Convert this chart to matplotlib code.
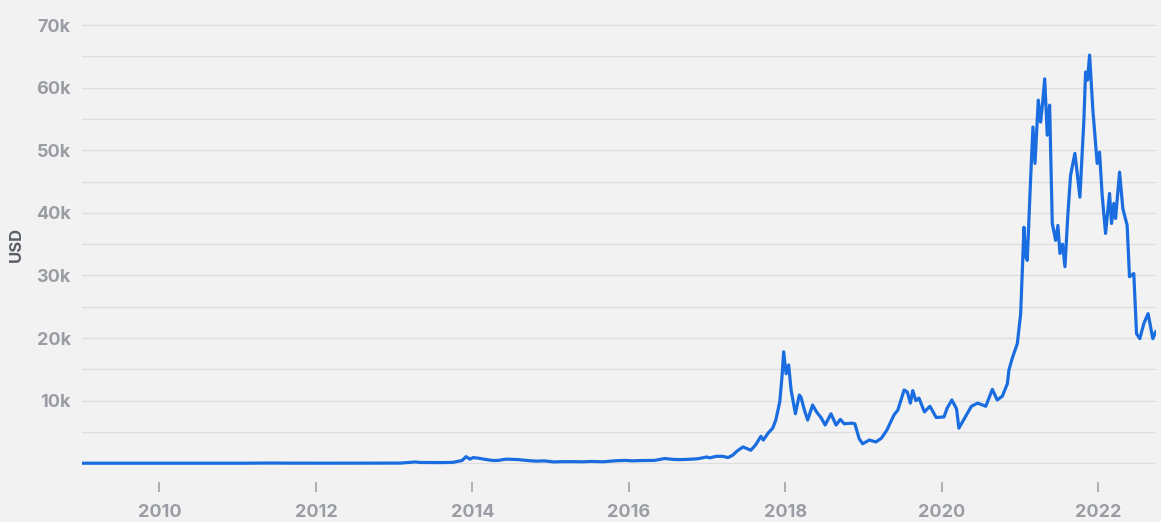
import numpy as np
import matplotlib
matplotlib.use('Agg')
import matplotlib.pyplot as plt
from matplotlib.ticker import FixedLocator, FuncFormatter

# Bitcoin price (USD), x as decimal year
year = [2009.01, 2009.50, 2010.00, 2010.54, 2010.83, 2011.08, 2011.44, 2011.67, 2011.92,
        2012.17, 2012.62, 2012.92, 2013.08, 2013.27, 2013.33, 2013.58, 2013.75, 2013.87,
        2013.92, 2013.97, 2014.01, 2014.08, 2014.17, 2014.27, 2014.33, 2014.43, 2014.50,
        2014.58, 2014.67, 2014.75, 2014.83, 2014.92, 2015.04, 2015.12, 2015.25, 2015.42,
        2015.52, 2015.67, 2015.84, 2015.96, 2016.04, 2016.17, 2016.33, 2016.46, 2016.58,
        2016.65, 2016.75, 2016.88, 2017.00, 2017.03, 2017.12, 2017.20, 2017.27, 2017.33,
        2017.39, 2017.46, 2017.56, 2017.62, 2017.69, 2017.72, 2017.78, 2017.84, 2017.88,
        2017.93, 2017.96, 2017.98, 2018.011, 2018.044, 2018.075, 2018.13, 2018.18, 2018.20,
        2018.245, 2018.287, 2018.35, 2018.40, 2018.457, 2018.51, 2018.585, 2018.65, 2018.704,
        2018.755, 2018.85, 2018.89, 2018.946, 2018.99, 2019.074, 2019.16, 2019.23, 2019.30,
        2019.39, 2019.44, 2019.52, 2019.56, 2019.60, 2019.63, 2019.67, 2019.71, 2019.78,
        2019.85, 2019.93, 2020.03, 2020.07, 2020.13, 2020.19, 2020.22, 2020.28, 2020.38,
        2020.46, 2020.564, 2020.648, 2020.71, 2020.775, 2020.84, 2020.86, 2020.903, 2020.967,
        2021.010, 2021.052, 2021.075, 2021.094, 2021.138, 2021.167, 2021.193, 2021.235,
        2021.265, 2021.290, 2021.317, 2021.350, 2021.380, 2021.414, 2021.457, 2021.486,
        2021.512, 2021.545, 2021.576, 2021.614, 2021.648, 2021.703, 2021.733, 2021.767,
        2021.818, 2021.840, 2021.865, 2021.891, 2021.933, 2021.988, 2022.018, 2022.052,
        2022.095, 2022.146, 2022.172, 2022.201, 2022.223, 2022.274, 2022.316, 2022.371,
        2022.401, 2022.456, 2022.491, 2022.533, 2022.584, 2022.639, 2022.699, 2022.736]
price = [0, 0, 0, 0.07, 0.3, 1, 30, 8, 3,
         5, 11, 13, 20, 200, 120, 100, 130, 440,
         1050, 650, 900, 800, 600, 430, 450, 650, 630,
         590, 475, 380, 330, 375, 210, 240, 250, 230,
         285, 230, 400, 450, 380, 430, 450, 750, 600,
         580, 615, 710, 1000, 850, 1100, 1100, 900, 1300,
         2000, 2600, 2080, 2900, 4300, 3700, 4800, 5600, 6900,
         9800, 14000, 17800, 14300, 15700, 11700, 7900, 10900, 10600,
         8500, 6900, 9300, 8200, 7300, 6100, 7900, 6100, 7000,
         6300, 6400, 6300, 3900, 3100, 3700, 3400, 4000, 5300,
         7700, 8500, 11700, 11400, 9600, 11600, 10000, 10400, 8200,
         9100, 7300, 7400, 8800, 10100, 8700, 5600, 6900, 9100,
         9600, 9100, 11800, 10100, 10700, 12700, 14900, 16800, 19100,
         23900, 37700, 33000, 32400, 45700, 53700, 47900, 58000,
         54500, 57500, 61400, 52400, 57200, 38300, 35600, 38000,
         33500, 35000, 31400, 39900, 46000, 49500, 46300, 42500,
         54800, 62500, 61200, 65200, 56400, 47900, 49700, 42800,
         36700, 43100, 38300, 41500, 39100, 46500, 40700, 38000,
         29800, 30300, 20700, 19900, 22300, 23900, 19900, 21000]

year_ticks = [2010, 2012, 2014, 2016, 2018, 2020, 2022]
usd_ticks = [0, 5000, 10000, 15000, 20000, 25000, 30000, 35000,
             40000, 45000, 50000, 55000, 60000, 65000, 70000]

bg = '#f2f2f2'
label_col = '#9a9da3'

fig = plt.figure(figsize=(11.61, 5.22), dpi=100, facecolor=bg)
ax = fig.add_axes([82/1161, 1 - 482/522, 1074/1161, (482 - 12.5)/522])
ax.set_facecolor(bg)

ax.plot(year, price, color='#1a6de0', lw=2.3, solid_joinstyle='round', zorder=3)

ax.set_xlim(2009.01, 2022.74)
ax.set_ylim(-3000, 72000)

ax.yaxis.set_major_locator(FixedLocator(usd_ticks))
ax.yaxis.set_major_formatter(FuncFormatter(
    lambda v, p: '%dk' % (v/1000) if v > 0 and v % 10000 == 0 else ''))
ax.xaxis.set_major_locator(FixedLocator(year_ticks))
ax.xaxis.set_major_formatter(FuncFormatter(lambda v, p: '%d' % v))

ax.grid(axis='y', color='#dedede', lw=1.0, zorder=0)
for s in ax.spines.values():
    s.set_visible(False)

ax.tick_params(axis='y', length=0, pad=8, labelsize=13, labelcolor=label_col)
ax.tick_params(axis='x', length=7, width=1.2, color='#a0a3a8', pad=9,
               labelsize=13, labelcolor=label_col)
for t in ax.get_xticklabels() + ax.get_yticklabels():
    t.set_fontfamily('Inter')
    t.set_fontweight('bold')

fig.text(16/1161, 1 - 244/522, 'USD', rotation=90, ha='center', va='center',
         fontsize=12, color='#5a5e66', fontfamily='Inter', fontweight='bold')

fig.savefig('out.png', dpi=100, facecolor=bg)
